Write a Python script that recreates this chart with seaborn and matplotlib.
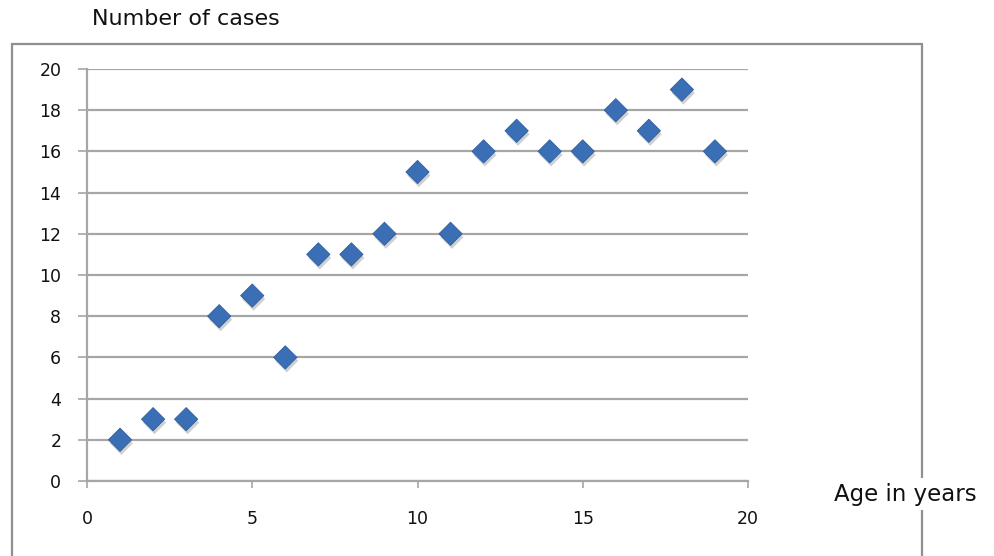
import matplotlib
matplotlib.use("Agg")
import matplotlib.pyplot as plt
import matplotlib.patheffects as pe
from matplotlib.lines import Line2D
import seaborn as sns
import pandas as pd

# Age (years) against number of cases
ages = [1, 2, 3, 4, 5, 6, 7, 8, 9, 10, 11, 12, 13, 14, 15, 16, 17, 18, 19]
cases = [2, 3, 3, 8, 9, 6, 11, 11, 12, 15, 12, 16, 17, 16, 16, 18, 17, 19, 16]
x_ticks = [0, 5, 10, 15, 20]
y_ticks = [0, 2, 4, 6, 8, 10, 12, 14, 16, 18, 20]

df = pd.DataFrame({"age": ages, "cases": cases})

sns.set_style("white")
plt.rcParams["font.family"] = ["DejaVu Sans"]

W, H = 994, 556
fig = plt.figure(figsize=(W / 100, H / 100), dpi=100)
ax = fig.add_axes([87 / W, 1 - 481 / H, (748 - 87) / W, (481 - 69) / H])

grid_col = "#a6a6a6"
ax.set_xlim(0, 20)
ax.set_ylim(0, 20)
ax.set_xticks(x_ticks)
ax.set_yticks(y_ticks)
for yv in y_ticks:
    ax.axhline(yv, color=grid_col, lw=1.6, zorder=1)

sns.scatterplot(data=df, x="age", y="cases", marker="D", s=140,
                color="#3a6fb6", edgecolor="#2f5e9e", linewidth=0.6,
                ax=ax, zorder=3, clip_on=False)
ax.collections[-1].set_path_effects([
    pe.SimplePatchShadow(offset=(1.0, -2.5), shadow_rgbFace="#666666", alpha=0.3),
    pe.Normal(),
])

for side in ["top", "right"]:
    ax.spines[side].set_visible(False)
for side in ["left", "bottom"]:
    ax.spines[side].set_color(grid_col)
    ax.spines[side].set_linewidth(1.6)

ax.tick_params(axis="y", length=6.5, width=1.2, color=grid_col, pad=12,
               labelsize=12.5, labelcolor="#111111", left=True)
ax.tick_params(axis="x", length=5, width=1.2, color=grid_col, pad=16,
               labelsize=12.5, labelcolor="#111111", bottom=True)
ax.set_xlabel("")
ax.set_ylabel("")

# outer chart frame (open at the bottom)
frame_col = "#8f8f8f"
left_px, right_px, top_px = 12, 922, 44
fx = lambda p: p / W
fy = lambda p: 1 - p / H
fig.add_artist(Line2D([fx(left_px), fx(left_px)], [fy(top_px), 0], color=frame_col, lw=1.6))
fig.add_artist(Line2D([fx(right_px), fx(right_px)], [fy(top_px), 0], color=frame_col, lw=1.6))
fig.add_artist(Line2D([fx(left_px), fx(right_px)], [fy(top_px), fy(top_px)], color=frame_col, lw=1.6))

fig.text(fx(186), fy(19), "Number of cases", fontsize=16, color="#111111",
         ha="center", va="center")
fig.text(fx(905), fy(494), "Age in years", fontsize=16.5, color="#111111",
         ha="center", va="center",
         bbox=dict(facecolor="white", edgecolor="none", pad=3))

fig.savefig("out.png", dpi=100, facecolor="white")
